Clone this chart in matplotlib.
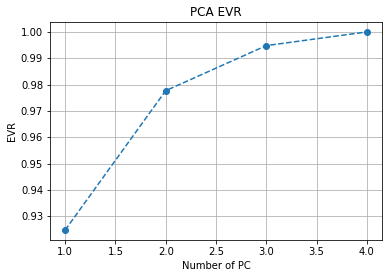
import matplotlib
matplotlib.use('Agg')
import matplotlib.pyplot as plt

n_pc = [1, 2, 3, 4]
evr = [0.9248, 0.9777, 0.9948, 1.0]

fig = plt.figure(figsize=(392/72, 278/72), dpi=72)
fig.subplots_adjust(left=50/392, right=382/392, top=1-22/278, bottom=1-240/278)

plt.plot(n_pc, evr, 'o--')
plt.title('PCA EVR')
plt.xlabel('Number of PC')
plt.ylabel('EVR')
plt.grid()

plt.savefig('out.png', dpi=72)
